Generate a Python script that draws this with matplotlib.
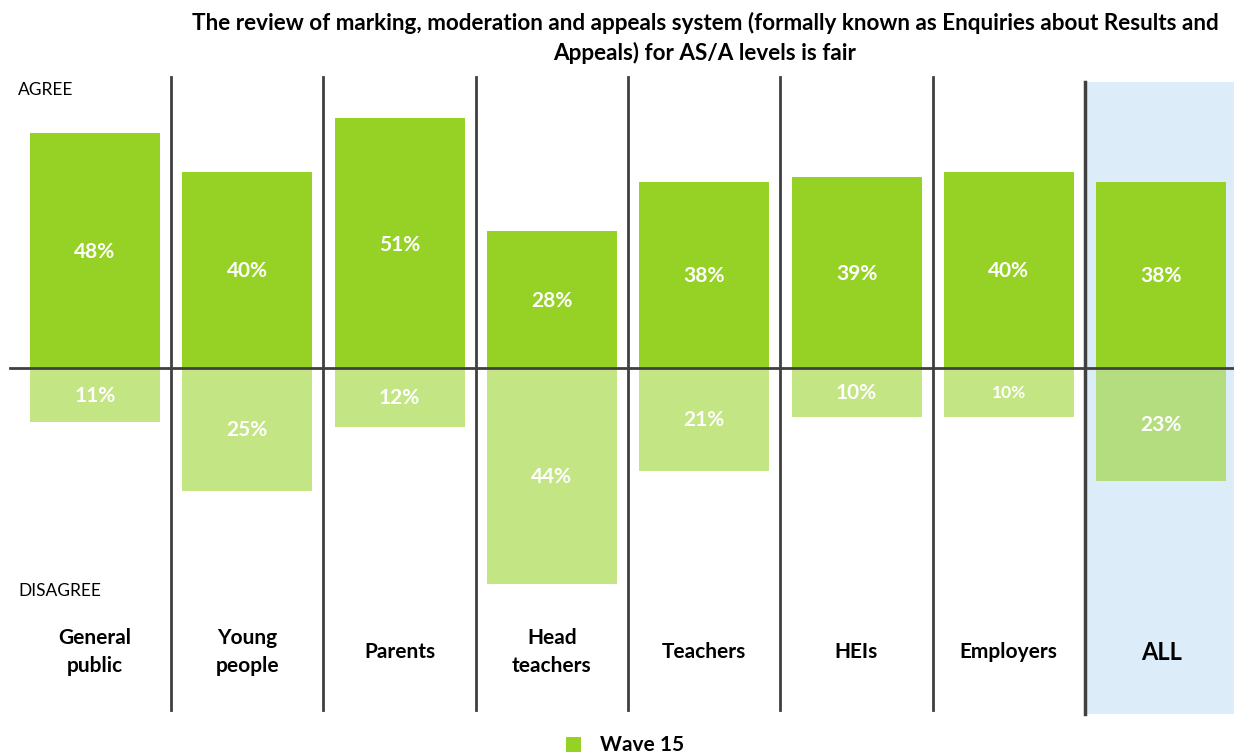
import matplotlib
matplotlib.use("Agg")
import matplotlib.pyplot as plt
from matplotlib.patches import Rectangle

plt.rcParams['font.family'] = ['Lato', 'DejaVu Sans']

title = "The review of marking, moderation and appeals system (formally known as Enquiries about Results and\nAppeals) for AS/A levels is fair"
categories = ['General\npublic', 'Young\npeople', 'Parents', 'Head\nteachers', 'Teachers', 'HEIs', 'Employers', 'ALL']
agree = [48, 40, 51, 28, 38, 39, 40, 38]
disagree = [11, 25, 12, 44, 21, 10, 10, 23]
legend_label = 'Wave 15'

GREEN = '#96d225'
SEP = '#404040'
BLUE = '#dcedf9'

fig = plt.figure(figsize=(12.34, 7.54), dpi=100)
ax = fig.add_axes([0, 0, 1, 1])
step = 152.3
ppp = 4.9
ax.set_xlim(-95 / step, (1234 - 95) / step)
ax.set_ylim(-(754 - 368) / ppp, 368 / ppp)
ax.axis('off')

n = len(categories)
x = list(range(n))

# ALL column highlight
ax.add_patch(Rectangle((n - 1.5 + 1 / step, -(714 - 368) / ppp), 2, (714 - 82) / ppp,
                       facecolor=BLUE, edgecolor='none', zorder=0))

w = 130 / step
ax.bar(x, agree, width=w, color=GREEN, zorder=2)
ax.bar(x, [-d for d in disagree], width=w, color=GREEN, alpha=0.57, linewidth=0, zorder=2)

for i in range(n):
    ax.text(x[i], agree[i] / 2 - 0.3, f"{agree[i]}%", ha='center', va='center',
            color='white', fontsize=15, fontweight='bold', zorder=4)
    ax.text(x[i], -disagree[i] / 2 - 0.2, f"{disagree[i]}%", ha='center', va='center',
            color='white', fontsize=12.5 if i == 6 else 15, fontweight='bold', zorder=4)
    fs = 17 if categories[i] == 'ALL' else 15
    ax.text(x[i], -(652 - 368) / ppp, categories[i], ha='center', va='center',
            fontsize=fs, fontweight='bold', color='black', linespacing=1.45, zorder=4)

# separators
for i in range(n - 1):
    xs = i + 0.5
    if i == n - 2:
        ax.plot([xs, xs], [(368 - 82) / ppp, -(714 - 368) / ppp], color=SEP, lw=2.5, zorder=3)
    else:
        ax.plot([xs, xs], [(368 - 77) / ppp, -(710 - 368) / ppp], color=SEP, lw=2, zorder=3)

# zero line
ax.plot([-85 / step, (1234 - 95) / step], [0, 0], color=SEP, lw=2, zorder=3)

fig.text(18 / 1234, 1 - 90 / 754, 'AGREE', ha='left', va='center', fontsize=12.5)
fig.text(18 / 1234, 1 - 591 / 754, 'DISAGREE', ha='left', va='center', fontsize=12.5)
fig.text(705 / 1234, 1 - 38 / 754, title, ha='center', va='center', fontsize=16.2,
         fontweight='bold', linespacing=1.4)

# legend
fig.patches.append(Rectangle((566 / 1234, 1 - 752 / 754), 15 / 1234, 15 / 754,
                             transform=fig.transFigure, facecolor=GREEN, edgecolor='none'))
fig.text(600 / 1234, 1 - 745 / 754, legend_label, ha='left', va='center', fontsize=15,
         fontweight='bold')

fig.savefig('out.png', dpi=100)
